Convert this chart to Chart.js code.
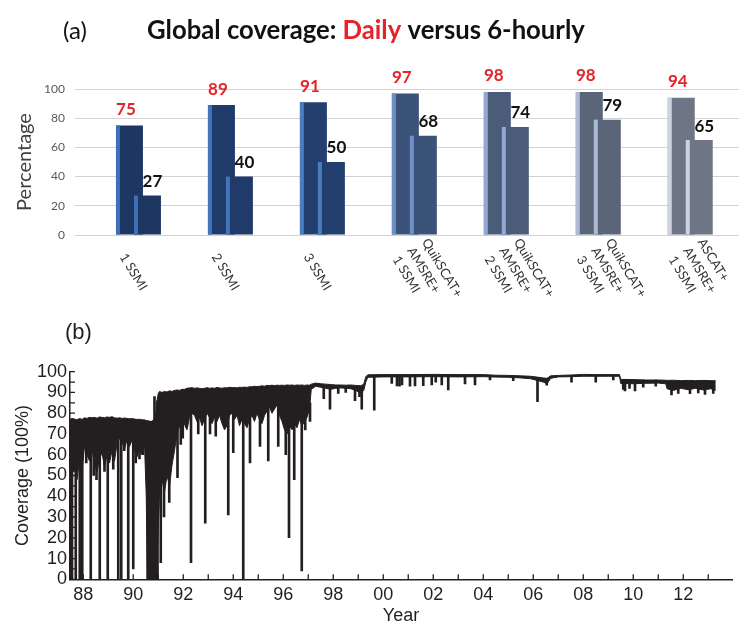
<!DOCTYPE html>
<html>
<head>
<meta charset="utf-8">
<title>Global coverage</title>
<script src="https://cdn.jsdelivr.net/npm/chart.js@4.4.0/dist/chart.umd.min.js"></script>
<style>
  html, body { margin: 0; padding: 0; background: #ffffff; }
  #wrap { position: relative; width: 739px; height: 621px; overflow: hidden; }
  #barCanvas { position: absolute; left: 0; top: 0; }
  #seriesCanvas { position: absolute; left: 0; top: 300px; }
</style>
</head>
<body>
<div id="wrap">
  <canvas id="barCanvas" width="739" height="300"></canvas>
  <canvas id="seriesCanvas" width="739" height="321"></canvas>
</div>
<script>
// ---------- (a) Daily vs 6-hourly global coverage per satellite combination ----------
const satelliteCombos = [
  ['1 SSMI'],
  ['2 SSMI'],
  ['3 SSMI'],
  ['QuikSCAT+', 'AMSRE+', '1 SSMI'],
  ['QuikSCAT+', 'AMSRE+', '2 SSMI'],
  ['QuikSCAT+', 'AMSRE+', '3 SSMI'],
  ['ASCAT+', 'AMSRE+', '1 SSMI']
];
const dailyCoverage     = [75, 89, 91, 97, 98, 98, 94];
const sixHourlyCoverage = [27, 40, 50, 68, 74, 79, 65];
const percentTicks      = [0, 20, 40, 60, 80, 100];

// ---------- (b) Daily coverage time series (band envelope + individual drops) ----------
const bandYears = [
  1987.47, 1987.55, 1987.65, 1987.75, 1987.85, 1987.95, 1988.05, 1988.15, 1988.25, 1988.35,
  1988.45, 1988.55, 1988.65, 1988.75, 1988.85, 1988.95, 1989.05, 1989.15, 1989.25, 1989.35,
  1989.45, 1989.55, 1989.65, 1989.75, 1989.85, 1989.95, 1990.05, 1990.15, 1990.25, 1990.35,
  1990.45, 1990.52, 1990.56, 1990.70, 1990.80, 1990.90, 1990.95, 1991.00, 1991.05, 1991.15,
  1991.25, 1991.35, 1991.45, 1991.55, 1991.65, 1991.75, 1991.85, 1991.95, 1992.05, 1992.15,
  1992.25, 1992.35, 1992.45, 1992.55, 1992.65, 1992.75, 1992.85, 1992.95, 1993.05, 1993.15,
  1993.25, 1993.35, 1993.45, 1993.55, 1993.65, 1993.75, 1993.85, 1993.95, 1994.05, 1994.15,
  1994.25, 1994.35, 1994.45, 1994.55, 1994.65, 1994.75, 1994.85, 1994.95, 1995.05, 1995.15,
  1995.25, 1995.35, 1995.45, 1995.55, 1995.65, 1995.75, 1995.85, 1995.95, 1996.05, 1996.15,
  1996.25, 1996.35, 1996.45, 1996.55, 1996.65, 1996.75, 1996.85, 1996.95, 1997.05, 1997.12,
  1997.30, 1997.50, 1997.70, 1997.90, 1998.10, 1998.30, 1998.50, 1998.70, 1998.90, 1999.10,
  1999.22, 1999.30, 1999.38, 2000.00, 2001.00, 2002.00, 2003.00, 2004.00, 2004.50, 2005.00,
  2005.50, 2005.90, 2006.15, 2006.40, 2006.55, 2006.70, 2007.00, 2007.50, 2008.00, 2008.50,
  2009.00, 2009.45, 2009.50, 2010.00, 2010.50, 2011.00, 2011.30, 2011.35, 2011.60, 2011.90,
  2012.20, 2012.50, 2012.80, 2013.10, 2013.30
];
const bandUpper = [
  77.0, 77.5, 77.2, 76.8, 77.5, 77.0, 77.8, 77.5, 78.0, 77.8,
  78.0, 77.6, 78.2, 78.0, 77.8, 78.2, 78.0, 78.3, 77.8, 77.6,
  77.8, 77.5, 77.7, 77.5, 77.3, 77.4, 77.2, 77.0, 77.1, 76.8,
  76.8, 76.5, 76.5, 76.0, 76.5, 78.0, 86.0, 89.5, 90.5, 90.0,
  90.5, 90.2, 90.8, 90.5, 91.0, 91.2, 91.0, 91.5, 91.5, 92.0,
  92.2, 92.3, 92.0, 92.2, 92.0, 91.8, 92.0, 92.3, 92.0, 92.2,
  92.0, 92.4, 92.2, 92.0, 92.3, 92.2, 92.5, 92.3, 92.4, 92.2,
  92.5, 92.4, 92.6, 92.4, 92.8, 92.7, 93.0, 92.8, 93.0, 93.2,
  93.0, 93.4, 93.3, 93.5, 93.3, 93.5, 93.4, 93.5, 93.4, 93.6,
  93.5, 93.6, 93.4, 93.6, 93.5, 93.6, 93.4, 93.6, 93.5, 94.0,
  94.5, 94.2, 94.0, 93.8, 93.6, 93.6, 93.5, 93.6, 93.4, 93.2,
  94.0, 97.5, 98.5, 98.6, 98.6, 98.7, 98.6, 98.6, 98.3, 98.2,
  98.0, 97.8, 97.4, 97.0, 96.8, 98.0, 98.2, 98.4, 98.7, 98.6,
  98.6, 98.6, 96.3, 96.2, 96.0, 96.0, 95.9, 95.8, 95.9, 95.7,
  95.8, 95.7, 95.8, 95.7, 95.6
];
const bandLower = [
  45, 50, 56, 48, 58, 52, 64, 60, 57, 63,
  55, 52, 58, 61, 54, 60, 56, 62, 57, 65,
  68, 66, 63, 67, 64, 67, 62, 59, 63, 60,
  65, 40, 0, 0, 0, 0, 5, 25, 40, 48,
  42, 50, 45, 55, 62, 70, 74, 71, 75, 72,
  78, 80, 79, 76, 78, 74, 77, 80, 78, 75,
  78, 76, 79, 75, 72, 74, 79, 80, 77, 79,
  74, 77, 75, 73, 77, 79, 76, 80, 77, 75,
  79, 81, 83, 80, 82, 84, 79, 76, 72, 70,
  74, 72, 75, 73, 77, 74, 76, 78, 82, 91.5,
  93.0, 92.5, 92.0, 91.5, 92.0, 92.2, 92.0, 91.8, 91.0, 89.5,
  91.0, 95.0, 97.3, 97.5, 97.5, 97.6, 97.5, 97.6, 97.4, 97.3,
  97.0, 96.6, 95.8, 95.0, 94.2, 96.8, 97.5, 97.6, 97.8, 97.8,
  97.8, 97.8, 94.3, 94.2, 94.4, 94.5, 94.2, 91.8, 91.0, 92.0,
  91.3, 92.0, 91.2, 91.8, 91.0
];
const dropYears = [
  1987.50, 1987.55, 1987.62, 1987.70, 1987.80, 1987.86, 1987.96, 1988.12, 1988.30, 1988.42,
  1988.53, 1988.66, 1988.85, 1988.98, 1989.20, 1989.40, 1989.52, 1989.64, 1989.80, 1990.00,
  1990.10, 1990.25, 1990.38, 1990.58, 1990.62, 1990.66, 1990.70, 1990.74, 1990.78, 1990.82,
  1990.85, 1990.89, 1990.93, 1990.97,
  1991.10, 1991.23, 1991.44, 1991.77, 1991.90, 1991.98, 1992.13, 1992.31, 1992.60, 1992.88,
  1993.07, 1993.30, 1993.80, 1994.00, 1994.40, 1994.67, 1995.07, 1995.40, 1995.80, 1996.10,
  1996.23, 1996.44, 1996.74, 1996.88, 1997.07,
  1997.62, 1997.87, 1998.20, 1998.50, 1998.87, 1999.05, 1999.14,
  1999.64, 2000.34, 2000.55, 2000.65, 2000.75, 2001.07, 2001.27, 2001.60, 2001.94, 2002.10,
  2002.34, 2002.60, 2003.27, 2003.67, 2004.27, 2005.20, 2006.17, 2006.54, 2007.53, 2008.50,
  2009.20, 2009.60, 2009.67, 2009.85, 2010.07, 2010.40, 2010.90, 2011.53, 2011.80, 2012.27,
  2012.60, 2012.87, 2013.20
];
const dropLows = [
  0, 0, 52, 0, 62, 0, 0, 56, 0, 50,
  48, 0, 52, 0, 53, 0, 0, 62, 0, 5,
  56, 58, 60, 0, 0, 0, 0, 0, 0, 0,
  35, 0, 0, 0,
  8, 30, 37, 49, 65, 68, 73, 8, 70, 27,
  70, 69, 31, 61, 0, 56, 64, 57, 64, 60,
  20, 48, 4, 72, 76,
  87, 82, 89.5, 90, 86, 88, 82,
  81.5, 94.4, 93.2, 93, 93.6, 93, 93.2, 93.3, 93.6, 95,
  93.6, 91.2, 94.1, 93.6, 96, 95.7, 85.6, 93.5, 95, 95,
  96, 91.5, 90.8, 92, 90.8, 92.5, 93, 88.8, 89.5, 89.4,
  89.8, 89, 89.5
];
const dropTops = [
  70, 70, 70, 70, 70, 70, 70, 70, 70, 70,
  70, 70, 70, 70, 70, 70, 70, 70, 70, 70,
  70, 70, 70, 76, 76, 76, 76, 76, 76, 76,
  88, 77, 80, 86,
  85, 85, 85, 85, 85, 85, 85, 85, 85, 85,
  85, 85, 85, 85, 85, 85, 85, 85, 85, 85,
  85, 85, 85, 85, 85,
  93, 93, 93, 93, 93, 93, 93,
  98, 98, 98, 98, 98, 98, 98, 98, 98, 98,
  98, 98, 98, 98, 98, 98, 97, 96, 98, 98,
  98, 96, 96, 96, 96, 96, 96, 95, 95, 95,
  95, 95, 95
];

// ---------- colours ----------
const INK = '#231f20';
const RED = '#e3242b';
const barBody = ['#1e3662', '#203b69', '#223f6e', '#3b5378', '#4b5c78', '#5b6579', '#6e7585'];
const barEdge = ['#3f6fb6', '#4274ba', '#4a7cc0', '#6e90c6', '#93a8cf', '#adb9d5', '#cdd3e1'];

Chart.defaults.font.family = 'Lato';

// ---------- panel (a) ----------
const headerPlugin = {
  id: 'header',
  afterDraw(chart) {
    const ctx = chart.ctx;
    ctx.save();
    ctx.textBaseline = 'middle';
    ctx.textAlign = 'left';
    ctx.fillStyle = '#111111';
    ctx.font = '24px Lato';
    ctx.fillText('(a)', 63, 31);
    const parts = [['Global coverage: ', '#111111'], ['Daily', RED], [' versus 6-hourly', '#111111']];
    ctx.font = 'bold 28px Lato';
    const fullWidth = ctx.measureText(parts.map(p => p[0]).join('')).width;
    const size = 28 * 438 / fullWidth;
    ctx.font = 'bold ' + size.toFixed(2) + 'px Lato';
    let x = 147;
    parts.forEach(([text, colour]) => {
      ctx.fillStyle = colour;
      ctx.fillText(text, x, 31);
      x += ctx.measureText(text).width;
    });
    ctx.restore();
  }
};

// lighter left edge on every bar
const bevelPlugin = {
  id: 'bevel',
  afterDatasetsDraw(chart) {
    const ctx = chart.ctx;
    ctx.save();
    [0, 1].forEach(di => {
      chart.getDatasetMeta(di).data.forEach((bar, i) => {
        const p = bar.getProps(['x', 'y', 'base', 'width'], true);
        ctx.fillStyle = barEdge[i];
        ctx.fillRect(p.x - p.width / 2, p.y, 4, p.base - p.y);
      });
    });
    ctx.restore();
  }
};

// value labels above the bars
const valuePlugin = {
  id: 'values',
  afterDatasetsDraw(chart) {
    const ctx = chart.ctx;
    ctx.save();
    ctx.font = 'bold 17px Lato';
    ctx.textAlign = 'center';
    ctx.textBaseline = 'middle';
    chart.getDatasetMeta(0).data.forEach((bar, i) => {
      ctx.fillStyle = RED;
      ctx.fillText(String(dailyCoverage[i]), bar.x - 3.5, bar.y - 16);
    });
    chart.getDatasetMeta(1).data.forEach((bar, i) => {
      ctx.fillStyle = '#111111';
      ctx.fillText(String(sixHourlyCoverage[i]), bar.x + 5, bar.y - 14);
    });
    ctx.restore();
  }
};

// slanted category names under the bars
const comboLabelPlugin = {
  id: 'comboLabels',
  afterDraw(chart) {
    const ctx = chart.ctx;
    const xs = chart.scales.x;
    const angle = 59 * Math.PI / 180;
    ctx.save();
    ctx.font = '13px Lato';
    ctx.fillStyle = '#333333';
    ctx.textAlign = 'left';
    ctx.textBaseline = 'middle';
    satelliteCombos.forEach((lines, i) => {
      const cx = xs.getPixelForValue(i);
      const k = lines.length;
      const sx = cx - 15.5 + 5.8 * (k - 1);
      const sy = 254.5 - 3.1 * (k - 1);
      ctx.save();
      ctx.translate(sx, sy);
      ctx.rotate(angle);
      lines.forEach((t, j) => ctx.fillText(t, 0, (j - (k - 1) / 2) * 17));
      ctx.restore();
    });
    ctx.restore();
  }
};

const barDataset = (label, values) => ({
  label,
  data: values.map((v, i) => ({ x: i, y: v })),
  backgroundColor: barBody,
  borderWidth: 0,
  categoryPercentage: 0.3913,
  barPercentage: 1.5
});

new Chart(document.getElementById('barCanvas'), {
  type: 'bar',
  data: {
    datasets: [barDataset('Daily', dailyCoverage), barDataset('6-hourly', sixHourlyCoverage)]
  },
  options: {
    responsive: false,
    animation: false,
    devicePixelRatio: 1,
    layout: { padding: { top: 89, right: 0, bottom: 65, left: 0 } },
    plugins: { legend: { display: false }, tooltip: { enabled: false } },
    scales: {
      x: {
        type: 'linear',
        min: -0.69,
        max: 6.53,
        offset: false,
        display: false,
        afterBuildTicks: s => { s.ticks = satelliteCombos.map((_, i) => ({ value: i })); }
      },
      y: {
        min: 0,
        max: 100,
        afterBuildTicks: s => { s.ticks = percentTicks.map(v => ({ value: v })); },
        afterFit: s => { s.width = 75; },
        border: { display: false },
        grid: { color: '#d2d2d2', lineWidth: 1, drawTicks: false },
        ticks: { padding: 10, color: '#595959', font: { family: 'Lato', size: 12 } },
        title: {
          display: true,
          text: 'Percentage',
          color: '#404040',
          font: { family: 'Lato', size: 20 },
          padding: { top: 13, bottom: 0 }
        }
      }
    }
  },
  plugins: [headerPlugin, bevelPlugin, valuePlugin, comboLabelPlugin]
});

// ---------- panel (b) ----------
const panelTagPlugin = {
  id: 'panelTag',
  afterDraw(chart) {
    const ctx = chart.ctx;
    ctx.save();
    ctx.font = '22px "Liberation Sans"';
    ctx.fillStyle = INK;
    ctx.textAlign = 'left';
    ctx.textBaseline = 'middle';
    ctx.fillText('(b)', 65, 33);
    ctx.restore();
  }
};

// tick marks pointing into the plot
const innerTicksPlugin = {
  id: 'innerTicks',
  afterDraw(chart) {
    const { ctx, chartArea: a, scales: { x, y } } = chart;
    ctx.save();
    ctx.strokeStyle = INK;
    ctx.lineWidth = 1.3;
    ctx.beginPath();
    y.ticks.forEach(t => {
      const p = y.getPixelForValue(t.value);
      ctx.moveTo(a.left, p);
      ctx.lineTo(a.left + 5, p);
    });
    x.ticks.forEach(t => {
      const p = x.getPixelForValue(t.value);
      ctx.moveTo(p, a.bottom);
      ctx.lineTo(p, a.bottom - 5);
    });
    ctx.stroke();
    ctx.restore();
  }
};

const axisFont = { family: 'Liberation Sans', size: 18 };

new Chart(document.getElementById('seriesCanvas'), {
  type: 'line',
  data: {
    datasets: [
      {
        label: 'upper',
        data: bandYears.map((x, i) => ({ x, y: bandUpper[i] })),
        borderColor: INK,
        backgroundColor: INK,
        borderWidth: 1,
        pointRadius: 0,
        tension: 0,
        fill: '+1'
      },
      {
        label: 'lower',
        data: bandYears.map((x, i) => ({ x, y: bandLower[i] })),
        borderColor: INK,
        borderWidth: 1,
        pointRadius: 0,
        tension: 0,
        fill: false
      },
      {
        type: 'bar',
        label: 'drops',
        data: dropYears.map((x, i) => ({ x, y: [dropLows[i], dropTops[i]] })),
        backgroundColor: INK,
        borderWidth: 0,
        barThickness: 2
      }
    ]
  },
  options: {
    responsive: false,
    animation: false,
    devicePixelRatio: 1,
    layout: { padding: { top: 71.7, right: 7, bottom: 0, left: 0 } },
    plugins: { legend: { display: false }, tooltip: { enabled: false } },
    scales: {
      x: {
        type: 'linear',
        min: 1987.47,
        max: 2013.95,
        offset: false,
        afterFit: s => { s.height = 41.7; },
        grid: { display: false, drawTicks: false },
        border: { display: true, color: INK, width: 1.5 },
        ticks: {
          stepSize: 1,
          includeBounds: false,
          autoSkip: false,
          maxRotation: 0,
          padding: 5,
          color: INK,
          font: axisFont,
          callback: v => (v % 2 === 0 ? String(v % 100).padStart(2, '0') : '')
        },
        title: { display: true, text: 'Year', color: INK, font: axisFont, padding: { top: 0, bottom: -6 } }
      },
      y: {
        min: 0,
        max: 100,
        afterFit: s => { s.width = 70; },
        grid: { display: false, drawTicks: false },
        border: { display: true, color: INK, width: 1.5 },
        ticks: {
          stepSize: 5,
          autoSkip: false,
          padding: 3,
          color: INK,
          font: axisFont,
          callback: v => (v % 10 === 0 ? String(v) : '')
        },
        title: { display: true, text: 'Coverage (100%)', color: INK, font: axisFont, padding: { top: 12, bottom: 0 } }
      }
    }
  },
  plugins: [panelTagPlugin, innerTicksPlugin]
});
</script>
</body>
</html>
